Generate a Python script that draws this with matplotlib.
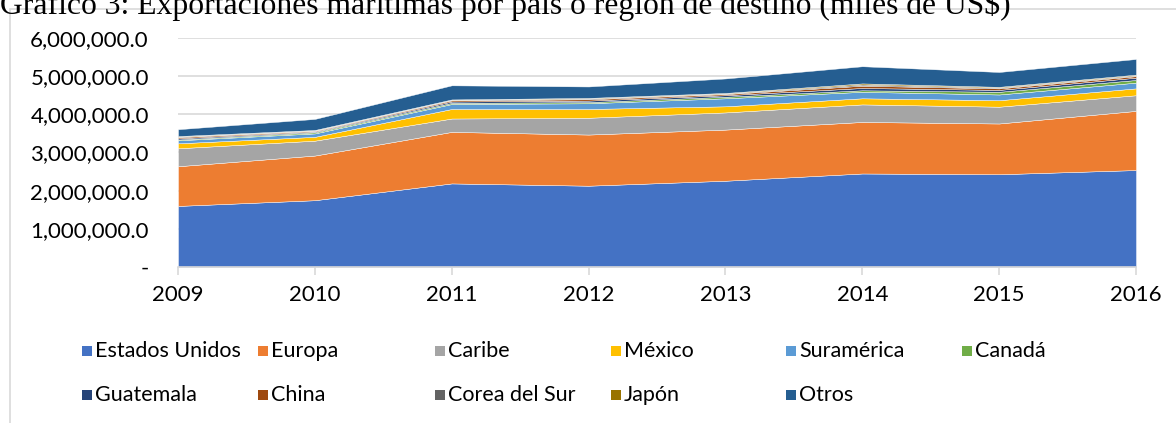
import matplotlib
matplotlib.use("Agg")
import numpy as np
import matplotlib.pyplot as plt
from matplotlib.patches import Rectangle
from matplotlib.ticker import FuncFormatter

# Exportaciones maritimas por destino (miles de US$)
years = [2009, 2010, 2011, 2012, 2013, 2014, 2015, 2016]
estados_unidos = [1600000, 1750000, 2190000, 2130000, 2260000, 2450000, 2430000, 2540000]
europa = [1040000, 1170000, 1350000, 1340000, 1340000, 1350000, 1330000, 1550000]
caribe = [470000, 390000, 350000, 440000, 450000, 460000, 440000, 410000]
mexico = [130000, 100000, 250000, 230000, 160000, 160000, 170000, 180000]
suramerica = [80000, 90000, 130000, 150000, 210000, 170000, 150000, 150000]
canada = [20000, 30000, 30000, 30000, 40000, 40000, 70000, 70000]
guatemala = [30000, 20000, 35000, 40000, 40000, 60000, 50000, 60000]
china = [30000, 20000, 30000, 35000, 30000, 60000, 40000, 40000]
corea = [15000, 10000, 15000, 20000, 15000, 30000, 20000, 20000]
japon = [15000, 10000, 10000, 15000, 15000, 30000, 20000, 20000]
otros = [180000, 290000, 370000, 300000, 380000, 450000, 390000, 410000]

names = ["Estados Unidos", "Europa", "Caribe", "México", "Suramérica", "Canadá",
         "Guatemala", "China", "Corea del Sur", "Japón", "Otros"]
colors = ["#4472C4", "#ED7D31", "#A5A5A5", "#FFC000", "#5B9BD5", "#70AD47",
          "#264478", "#9E480E", "#636363", "#997300", "#255E91"]
series = [estados_unidos, europa, caribe, mexico, suramerica, canada,
          guatemala, china, corea, japon, otros]

W, H = 1176, 423
fig = plt.figure(figsize=(W / 100, H / 100), dpi=100)
font = "Lato"

# marco del grafico
fig.patches.append(Rectangle((10 / W, -0.1), 1.2, 1 - 9 / H + 0.1, transform=fig.transFigure,
                             fill=False, edgecolor="#d9d9d9", lw=1.2))

# titulo (recortado arriba como en la imagen)
fig.text(0.0, 1 - 14 / H, "Gráfico 3: Exportaciones marítimas por país o región de destino (miles de US$)",
         fontsize=22.8, family="Liberation Serif", va="baseline", ha="left")

ax = fig.add_axes([178 / W, 1 - 267 / H, (1136 - 178) / W, (267 - 38) / H])
ax.stackplot(years, *series, colors=colors, edgecolor="white", linewidth=0.3)

ax.set_xlim(2009, 2016)
ax.set_ylim(0, 6000000)
ax.set_yticks(np.arange(0, 6000001, 1000000))
ax.yaxis.set_major_formatter(FuncFormatter(lambda v, p: "-" if v == 0 else f"{v:,.1f}"))
ax.set_xticks(years)
ax.grid(axis="y", color="#d9d9d9", lw=1.2)
ax.set_axisbelow(True)
for s in ["top", "right", "left"]:
    ax.spines[s].set_visible(False)
ax.spines["bottom"].set_color("#d9d9d9")
ax.spines["bottom"].set_linewidth(1.2)
ax.tick_params(axis="y", length=0, pad=21, labelsize=16)
ax.tick_params(axis="x", length=6, color="#d9d9d9", width=1.2, pad=7, labelsize=16)
for lbl in ax.get_xticklabels() + ax.get_yticklabels():
    lbl.set_family(font)

# leyenda en dos filas, columnas fijas
col_x = [82, 258, 435, 611, 786, 962]
row_y = [351, 395]
for i, (name, c) in enumerate(zip(names, colors)):
    r, k = divmod(i, 6)
    x0, y0 = col_x[k], row_y[r]
    fig.patches.append(Rectangle((x0 / W, 1 - (y0 + 5) / H), 10 / W, 10 / H,
                                 transform=fig.transFigure, facecolor=c, edgecolor="none"))
    fig.text((x0 + 13) / W, 1 - y0 / H, name, fontsize=15.5, family=font, va="center", ha="left")

fig.savefig("out.png", dpi=100)
